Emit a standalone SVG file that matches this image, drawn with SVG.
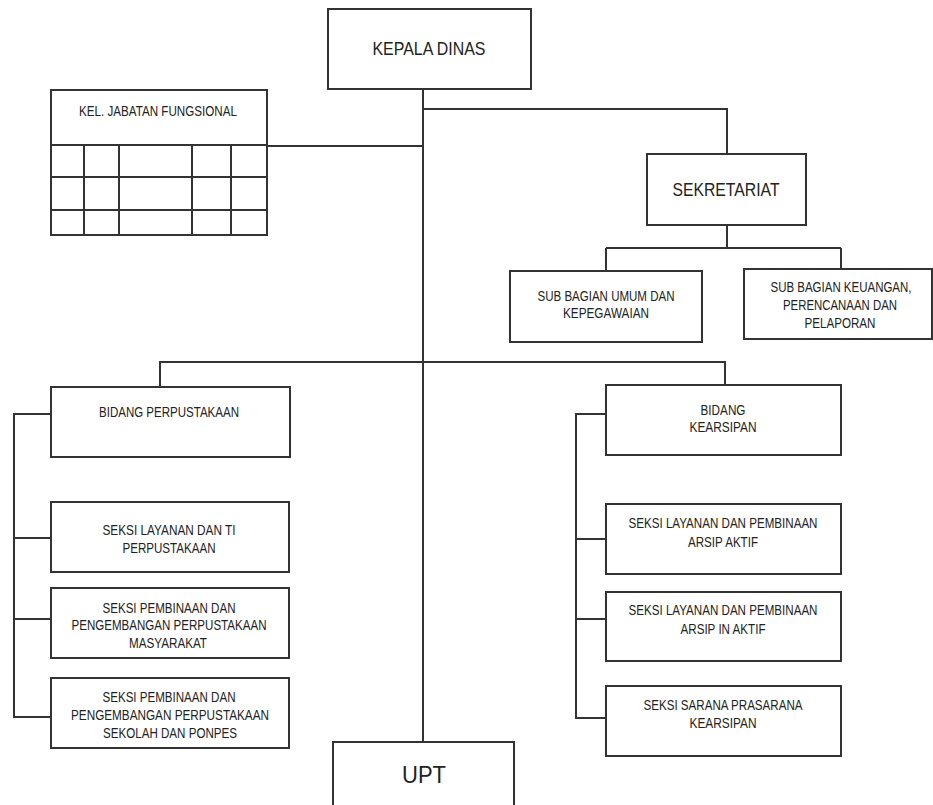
<svg xmlns="http://www.w3.org/2000/svg" width="933" height="805" viewBox="0 0 933 805">
<style>
.box{fill:#fff;stroke:#333;stroke-width:2}
.ln{fill:none;stroke:#333;stroke-width:2}
text{font-family:"Liberation Sans",Arial,sans-serif;fill:#222;text-anchor:middle}
.s{font-size:14px}
.m{font-size:19px}
.l{font-size:23px}
</style>
<rect width="933" height="805" fill="#fff"/>
<g id="connectors">
<path class="ln" d="M423,89 V755"/>
<path class="ln" d="M423,109 H727 V154"/>
<path class="ln" d="M727,225 V248 M606,248 H841 M606,248 V271 M841,248 V269"/>
<path class="ln" d="M267,146 H423"/>
<path class="ln" d="M160,387 V362 H725 V385"/>
<path class="ln" d="M51,414 H14 V717 H51 M14,538 H51 M14,619 H51"/>
<path class="ln" d="M606,414 H576 V718 H606 M576,539 H606 M576,619 H606"/>
</g>
<g id="kepala-dinas">
<rect class="box" x="328" y="9" width="203" height="80"/>
<text class="m" x="429" y="55" textLength="113" lengthAdjust="spacingAndGlyphs">KEPALA DINAS</text>
</g>
<g id="kel-jabatan-fungsional">
<rect class="box" x="51" y="90" width="216" height="145"/>
<path class="ln" d="M51,145 H267 M51,177 H267 M51,210 H267 M84,145 V235 M119,145 V235 M192,145 V235 M231,145 V235"/>
<text class="s" x="158" y="116" textLength="158" lengthAdjust="spacingAndGlyphs">KEL. JABATAN FUNGSIONAL</text>
</g>
<g id="sekretariat">
<rect class="box" x="647" y="154" width="159" height="71"/>
<text class="m" x="726" y="196" textLength="107" lengthAdjust="spacingAndGlyphs">SEKRETARIAT</text>
</g>
<g id="sub-bagian-umum">
<rect class="box" x="510" y="271" width="192" height="71"/>
<text class="s" x="606" y="301" textLength="137" lengthAdjust="spacingAndGlyphs">SUB BAGIAN UMUM DAN</text>
<text class="s" x="606" y="318" textLength="86" lengthAdjust="spacingAndGlyphs">KEPEGAWAIAN</text>
</g>
<g id="sub-bagian-keuangan">
<rect class="box" x="744" y="269" width="188" height="70"/>
<text class="s" x="841" y="292" textLength="141" lengthAdjust="spacingAndGlyphs">SUB BAGIAN KEUANGAN,</text>
<text class="s" x="840" y="310" textLength="114" lengthAdjust="spacingAndGlyphs">PERENCANAAN DAN</text>
<text class="s" x="840" y="328" textLength="71" lengthAdjust="spacingAndGlyphs">PELAPORAN</text>
</g>
<g id="bidang-perpustakaan">
<rect class="box" x="51" y="387" width="239" height="70"/>
<text class="s" x="169" y="417" textLength="140" lengthAdjust="spacingAndGlyphs">BIDANG PERPUSTAKAAN</text>
</g>
<g id="seksi-layanan-ti">
<rect class="box" x="51" y="502" width="238" height="70"/>
<text class="s" x="169" y="535" textLength="133" lengthAdjust="spacingAndGlyphs">SEKSI LAYANAN DAN TI</text>
<text class="s" x="169" y="553" textLength="93" lengthAdjust="spacingAndGlyphs">PERPUSTAKAAN</text>
</g>
<g id="seksi-pembinaan-masyarakat">
<rect class="box" x="51" y="588" width="238" height="70"/>
<text class="s" x="169" y="613" textLength="133" lengthAdjust="spacingAndGlyphs">SEKSI PEMBINAAN DAN</text>
<text class="s" x="169" y="630" textLength="195" lengthAdjust="spacingAndGlyphs">PENGEMBANGAN PERPUSTAKAAN</text>
<text class="s" x="168" y="648" textLength="78" lengthAdjust="spacingAndGlyphs">MASYARAKAT</text>
</g>
<g id="seksi-pembinaan-sekolah">
<rect class="box" x="51" y="678" width="238" height="70"/>
<text class="s" x="169" y="702" textLength="133" lengthAdjust="spacingAndGlyphs">SEKSI PEMBINAAN DAN</text>
<text class="s" x="170" y="720" textLength="198" lengthAdjust="spacingAndGlyphs">PENGEMBANGAN  PERPUSTAKAAN</text>
<text class="s" x="170" y="738" textLength="134" lengthAdjust="spacingAndGlyphs">SEKOLAH DAN PONPES</text>
</g>
<g id="bidang-kearsipan">
<rect class="box" x="606" y="385" width="235" height="70"/>
<text class="s" x="723" y="415" textLength="45" lengthAdjust="spacingAndGlyphs">BIDANG</text>
<text class="s" x="723" y="432" textLength="67" lengthAdjust="spacingAndGlyphs">KEARSIPAN</text>
</g>
<g id="seksi-arsip-aktif">
<rect class="box" x="606" y="504" width="235" height="70"/>
<text class="s" x="723" y="528" textLength="189" lengthAdjust="spacingAndGlyphs">SEKSI LAYANAN DAN PEMBINAAN</text>
<text class="s" x="723" y="547" textLength="70" lengthAdjust="spacingAndGlyphs">ARSIP AKTIF</text>
</g>
<g id="seksi-arsip-inaktif">
<rect class="box" x="606" y="592" width="235" height="69"/>
<text class="s" x="723" y="615" textLength="189" lengthAdjust="spacingAndGlyphs">SEKSI LAYANAN DAN PEMBINAAN</text>
<text class="s" x="723" y="634" textLength="85" lengthAdjust="spacingAndGlyphs">ARSIP IN AKTIF</text>
</g>
<g id="seksi-sarana">
<rect class="box" x="606" y="686" width="235" height="70"/>
<text class="s" x="723" y="710" textLength="159" lengthAdjust="spacingAndGlyphs">SEKSI SARANA PRASARANA</text>
<text class="s" x="723" y="728" textLength="67" lengthAdjust="spacingAndGlyphs">KEARSIPAN</text>
</g>
<g id="upt">
<rect class="box" x="333" y="742" width="181" height="80"/>
<text class="l" x="424" y="783" textLength="44" lengthAdjust="spacingAndGlyphs">UPT</text>
</g>
</svg>
